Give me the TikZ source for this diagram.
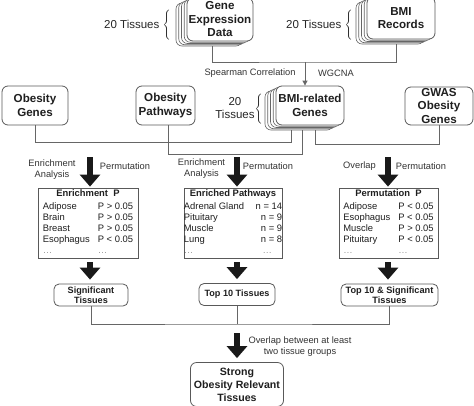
\documentclass[tikz,border=0pt]{standalone}
\usepackage{fontspec}
\setmainfont{Liberation Sans}
\usetikzlibrary{arrows.meta,shadows}

\begin{document}
\begin{tikzpicture}[x=1pt,y=-1pt,
  box/.style={draw=black!65, line width=0.8pt, rounded corners=6pt, fill=white,
    align=center, text=black!88, inner sep=1pt,
    font=\bfseries\fontsize{11.6}{13.5}\selectfont},
  layer/.style={draw=black!60, line width=0.6pt, fill=white},
  stack/.style={box,
    copy shadow={shadow xshift=-11pt, shadow yshift=-5pt, layer},
    copy shadow={shadow xshift=-8.25pt, shadow yshift=-3.75pt, layer},
    copy shadow={shadow xshift=-5.5pt, shadow yshift=-2.5pt, layer},
    copy shadow={shadow xshift=-2.75pt, shadow yshift=-1.25pt, layer}},
  table/.style={draw=black!65, line width=0.8pt, fill=white, inner sep=0pt,
    text=black!88, font=\fontsize{9.4}{11}\selectfont},
  result/.style={box, rounded corners=5pt, font=\bfseries\fontsize{9.1}{9.6}\selectfont},
  lbl/.style={align=center, text=black!80, inner sep=0pt, font=\fontsize{9.3}{11}\selectfont},
  tis/.style={text=black!85, inner sep=0pt, font=\fontsize{11.5}{13}\selectfont},
  link/.style={draw=black!60, line width=0.8pt},
  fat/.style={line width=6.5pt, black!90, -{Triangle[width=20pt,length=12pt]}}]
\useasboundingbox (0,0) rectangle (474,405);

% nodes
\node[stack, minimum width=66pt, minimum height=43pt] (ged) at (220,19.5) {Gene\\Expression\\Data};
\node[stack, minimum width=68pt, minimum height=42pt] (bmr) at (401,18) {BMI\\Records};
\node[tis, anchor=east] (t1) at (172,25) {20 Tissues $\left\{\vrule height 12pt depth 12pt width 0pt\right.$};
\node[tis, anchor=east] (t2) at (354,25) {20 Tissues $\left\{\vrule height 12pt depth 12pt width 0pt\right.$};

\node[box, minimum width=66pt, minimum height=39pt] (og) at (35,105.5) {Obesity\\Genes};
\node[box, minimum width=59pt, minimum height=39pt] (op) at (165.5,105.5) {Obesity\\Pathways};
\node[stack, minimum width=68pt, minimum height=39pt] (bmig) at (310,105.5) {BMI-related\\Genes};
\node[box, minimum width=68pt, minimum height=38pt] (gw) at (439,106) {GWAS\\Obesity\\Genes};
\node[tis, anchor=east] (t3) at (264,109) {\begin{tabular}{@{}c@{}}20\\Tissues\end{tabular}$\left\{\vrule height 12pt depth 12pt width 0pt\right.$};

\coordinate (j1) at (305,62);
\node[lbl] (sc) at (250,73) {Spearman Correlation};
\node[lbl] (wg) at (336,73) {WGCNA};

\coordinate (p1) at (90,157);
\coordinate (p2) at (237,157);
\coordinate (p3) at (388,157);
\node[lbl] (ea1) at (52,169.5) {Enrichment\\Analysis};
\node[lbl] (pm1) at (125,166) {Permutation};
\node[lbl] (ea2) at (201.5,168.5) {Enrichment\\Analysis};
\node[lbl] (pm2) at (268,166) {Permutation};
\node[lbl] (ov) at (359.5,166) {Overlap};
\node[lbl] (pm3) at (421,166) {Permutation};

\node[table, minimum width=100pt, minimum height=70pt] (enr) at (88,223) {%
\begin{tabular}{@{}l@{\hspace{8pt}}l@{}}
\multicolumn{2}{c}{\bfseries Enrichment\ \ P}\\[2pt]
Adipose & P > 0.05\\
Brain & P > 0.05\\
Breast & P > 0.05\\
Esophagus & P < 0.05\\
\textcolor{black!40}{\dots} & \textcolor{black!40}{\dots}
\end{tabular}};
\node[table, minimum width=96pt, minimum height=70pt] (pw) at (233,223) {%
\begin{tabular}{@{}l@{\hspace{3pt}}r@{}}
\multicolumn{2}{c}{\bfseries Enriched Pathways}\\[2pt]
Adrenal Gland & n = 14\\
Pituitary & n = 9\\
Muscle & n = 9\\
Lung & n = 8\\
\textcolor{black!40}{\dots} & \textcolor{black!40}{\dots}\hspace{10pt}
\end{tabular}};
\node[table, minimum width=99pt, minimum height=70pt] (perm) at (388.5,223) {%
\begin{tabular}{@{}l@{\hspace{8pt}}l@{}}
\multicolumn{2}{c}{\bfseries Permutation\ \ P}\\[2pt]
Adipose & P < 0.05\\
Esophagus & P < 0.05\\
Muscle & P > 0.05\\
Pituitary & P < 0.05\\
\textcolor{black!40}{\dots} & \textcolor{black!40}{\dots}
\end{tabular}};

\node[result, minimum width=74pt, minimum height=22pt] (sig) at (91,295) {Significant\\Tissues};
\node[result, minimum width=76pt, minimum height=22pt] (top) at (237,294.5) {Top 10 Tissues};
\node[result, minimum width=97pt, minimum height=22pt, font=\bfseries\fontsize{9.2}{9.6}\selectfont] (tsig) at (389.5,295) {Top 10 \& Significant\\Tissues};

\coordinate (j2) at (237,324);
\node[lbl] (ol) at (300,346.5) {Overlap between at least\\two tissue groups};
\node[box, minimum width=93pt, minimum height=44pt, font=\bfseries\fontsize{10.6}{13}\selectfont] (strong) at (237,384.5) {Strong\\Obesity Relevant\\Tissues};

% arrows
\draw[link] ([xshift=-8pt,yshift=-5pt]ged.south) |- (j1) -| ([xshift=-5pt,yshift=-5pt]bmr.south);
\draw[link, -{Triangle[width=5pt,length=5pt]}] (j1) -- (j1 |- bmig.north);
\draw[link] (og.south) -- ++(0,17) -| ([xshift=-19pt,yshift=-5pt]bmig.south);
\draw[link] ([xshift=3pt]op.south) -- ++(0,29) -| ([xshift=-8pt,yshift=-5pt]bmig.south);
\draw[link] ([xshift=5pt,yshift=-5pt]bmig.south) -- ++(0,14) -| (gw.south);

\draw[fat, shorten >=1pt] (p1) -- (p1 |- enr.north);
\draw[fat, shorten >=1pt] (p2) -- (p2 |- pw.north);
\draw[fat, shorten >=1pt] (p3) -- (p3 |- perm.north);
\draw[fat, shorten <=4pt, shorten >=4pt] (enr.south -| p1) -- (sig.north -| p1);
\draw[fat, shorten <=4pt, shorten >=4pt] (pw.south -| p2) -- (top.north -| p2);
\draw[fat, shorten <=4pt, shorten >=4pt] (perm.south -| p3) -- (tsig.north -| p3);

\draw[link] (sig.south) |- (j2) -| (tsig.south);
\draw[link] (top.south) -- (j2);
\draw[fat, shorten <=9pt, shorten >=4pt] (j2) -- (strong.north);

\end{tikzpicture}
\end{document}
